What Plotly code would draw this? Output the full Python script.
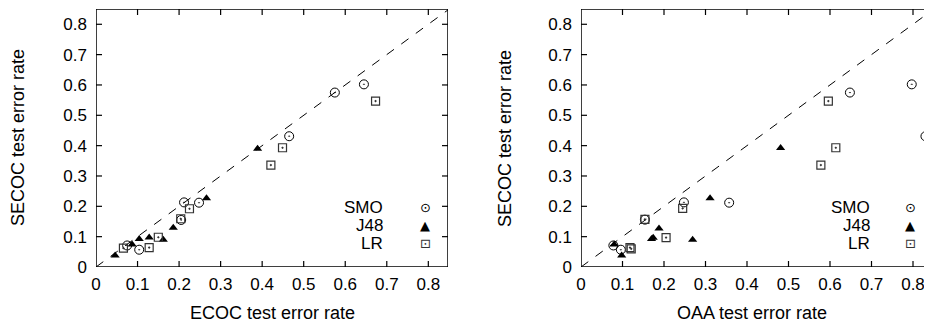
import plotly.graph_objects as go

# ---- data: left panel (ECOC vs SECOC) ----
ecoc_smo_x = [0.575, 0.645, 0.465, 0.212, 0.248, 0.205, 0.075, 0.104]
ecoc_smo_y = [0.575, 0.602, 0.431, 0.213, 0.212, 0.155, 0.071, 0.057]
ecoc_j48_x = [0.389, 0.266, 0.186, 0.162, 0.128, 0.104, 0.087, 0.046]
ecoc_j48_y = [0.390, 0.227, 0.129, 0.090, 0.097, 0.092, 0.074, 0.038]
ecoc_lr_x = [0.673, 0.449, 0.421, 0.225, 0.204, 0.150, 0.128, 0.066]
ecoc_lr_y = [0.547, 0.393, 0.336, 0.192, 0.159, 0.098, 0.064, 0.062]

# ---- data: right panel (OAA vs SECOC) ----
oaa_smo_x = [0.648, 0.797, 0.830, 0.357, 0.248, 0.154, 0.078, 0.096]
oaa_smo_y = [0.575, 0.602, 0.431, 0.212, 0.213, 0.156, 0.071, 0.057]
oaa_j48_x = [0.481, 0.311, 0.188, 0.174, 0.170, 0.269, 0.080, 0.098]
oaa_j48_y = [0.392, 0.227, 0.127, 0.096, 0.092, 0.090, 0.074, 0.038]
oaa_lr_x = [0.596, 0.614, 0.578, 0.245, 0.154, 0.205, 0.118, 0.121]
oaa_lr_y = [0.547, 0.393, 0.336, 0.193, 0.157, 0.097, 0.064, 0.060]

diag = [0, 0.85]
tick_vals = [0, 0.1, 0.2, 0.3, 0.4, 0.5, 0.6, 0.7, 0.8]
tick_text = ["0", "0.1", "0.2", "0.3", "0.4", "0.5", "0.6", "0.7", "0.8"]
legend_names = ["SMO", "J48", "LR"]
legend_glyphs = ["\u2299", "\u25B2", "\u22A1"]

FONT = "Liberation Sans, Arial, sans-serif"
W, H = 932, 324
OFF = 8  # page body margin: screen px = layout px + 8


def px(v):
    return (v - OFF) / W


def py(v):
    return (H - (v - OFF)) / H


# plot areas (screen px) and axis ranges
Y_TOP, Y_BOT = 9, 267
X1_L, X1_R = 96, 448
X2_L, X2_R = 581, 934
YMAX = (Y_BOT - Y_TOP) / 303.4
X1MAX = (X1_R - X1_L) / 415.4
X2MAX = (X2_R - X2_L) / 415.0
TICK_PX = 6

fig = go.Figure()


def frame_and_ticks(xa, ya, xmax, width_px):
    """Box outline plus inward ticks on all four sides, built from tick_vals."""
    dx = TICK_PX * xmax / width_px
    dy = TICK_PX * YMAX / (Y_BOT - Y_TOP)
    bx = [0, xmax, xmax, 0, 0]
    by = [0, 0, YMAX, YMAX, 0]
    tx, ty = [], []
    for v in tick_vals[1:]:
        tx += [v, v, None, v, v, None]
        ty += [0, dy, None, YMAX, YMAX - dy, None]
        tx += [0, dx, None, xmax, xmax - dx, None]
        ty += [v, v, None, v, v, None]
    fig.add_trace(go.Scatter(x=tx, y=ty, mode="lines", xaxis=xa, yaxis=ya,
                             line=dict(color="black", width=1.2),
                             showlegend=False, hoverinfo="skip", cliponaxis=False))
    fig.add_trace(go.Scatter(x=bx, y=by, mode="lines", xaxis=xa, yaxis=ya,
                             line=dict(color="black", width=1.5),
                             showlegend=False, hoverinfo="skip", cliponaxis=False))


panels = [
    ("x", "y", X1MAX, X1_R - X1_L, ecoc_smo_x, ecoc_smo_y, ecoc_j48_x, ecoc_j48_y, ecoc_lr_x, ecoc_lr_y),
    ("x2", "y2", X2MAX, X2_R - X2_L, oaa_smo_x, oaa_smo_y, oaa_j48_x, oaa_j48_y, oaa_lr_x, oaa_lr_y),
]
for xa, ya, xmax, wpx, sx, sy, jx, jy, lx, ly in panels:
    fig.add_trace(go.Scatter(x=diag, y=diag, mode="lines", xaxis=xa, yaxis=ya,
                             line=dict(color="black", width=1, dash="dash"),
                             showlegend=False, hoverinfo="skip"))
    frame_and_ticks(xa, ya, xmax, wpx)
    fig.add_trace(go.Scatter(x=sx, y=sy, mode="markers", xaxis=xa, yaxis=ya, name="SMO",
                             marker=dict(symbol="circle-open-dot", size=9, color="black",
                                         line=dict(width=1, color="black")),
                             showlegend=False, cliponaxis=False))
    fig.add_trace(go.Scatter(x=jx, y=jy, mode="markers", xaxis=xa, yaxis=ya, name="J48",
                             marker=dict(symbol="triangle-up", size=8, color="black"),
                             showlegend=False, cliponaxis=False))
    fig.add_trace(go.Scatter(x=lx, y=ly, mode="markers", xaxis=xa, yaxis=ya, name="LR",
                             marker=dict(symbol="square-open-dot", size=8, color="#333333",
                                         line=dict(width=1.2, color="#333333")),
                             showlegend=False, cliponaxis=False))

y_dom = [py(Y_BOT), py(Y_TOP)]
x1_dom = [px(X1_L), px(X1_R)]
x2_dom = [px(X2_L), px(X2_R)]

axis_common = dict(
    showline=False, ticks="", showgrid=False, zeroline=False, automargin=False,
    tickvals=tick_vals, ticktext=tick_text,
    tickfont=dict(family=FONT, size=17, color="black"),
)

fig.update_layout(
    width=W, height=H,
    margin=dict(l=0, r=0, t=0, b=0),
    paper_bgcolor="white", plot_bgcolor="white",
    showlegend=False,
    xaxis=dict(domain=x1_dom, range=[0, X1MAX], anchor="y",
               ticklabelstandoff=5, **axis_common),
    yaxis=dict(domain=y_dom, range=[0, YMAX], anchor="x",
               ticklabelstandoff=8, **axis_common),
    xaxis2=dict(domain=x2_dom, range=[0, X2MAX], anchor="y2",
                ticklabelstandoff=5, **axis_common),
    yaxis2=dict(domain=y_dom, range=[0, YMAX], anchor="x2",
                ticklabelstandoff=8, **axis_common),
)

annotations = []
# axis titles
for cx, title in [(272, "ECOC test error rate"), (752, "OAA test error rate")]:
    annotations.append(dict(x=px(cx), y=py(313), xref="paper", yref="paper",
                            text=title, showarrow=False, xanchor="center", yanchor="middle",
                            font=dict(family=FONT, size=18, color="black")))
for cx in [18, 505]:
    annotations.append(dict(x=px(cx), y=py(138), xref="paper", yref="paper",
                            text="SECOC test error rate", showarrow=False, textangle=-90,
                            xanchor="center", yanchor="middle",
                            font=dict(family=FONT, size=18, color="black")))
# legends
leg_rows_y = [207, 225, 243]
for text_x, sym_x in [(385, 425), (872, 910)]:
    for name, glyph, ry in zip(legend_names, legend_glyphs, leg_rows_y):
        annotations.append(dict(x=px(text_x), y=py(ry), xref="paper", yref="paper",
                                text=name, showarrow=False, xanchor="right", yanchor="middle",
                                font=dict(family=FONT, size=17, color="black")))
        annotations.append(dict(x=px(sym_x), y=py(ry), xref="paper", yref="paper",
                                text=glyph, showarrow=False, xanchor="center", yanchor="middle",
                                font=dict(family="DejaVu Sans", size=13,
                                          color="#333333" if name == "LR" else "black")))
fig.update_layout(annotations=annotations)

fig.write_html("out.html")
